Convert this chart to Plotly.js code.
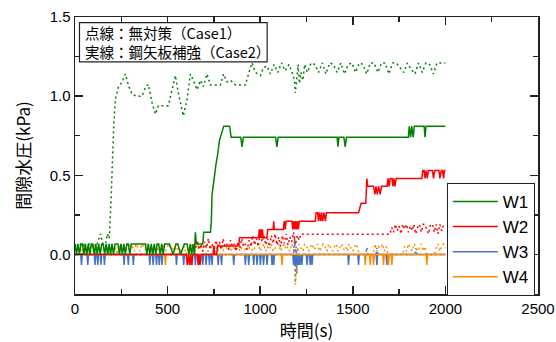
<!DOCTYPE html>
<html>
<head>
<meta charset="utf-8">
<script src="https://cdn.plot.ly/plotly-3.0.1.min.js"></script>
<style>html,body{margin:0;padding:0;background:#fff;}#chart{width:556px;height:342px;}</style>
</head>
<body>
<div id="chart"></div>
<script>
// ---- data: [time (s), pore water pressure (kPa)] ----
// Case1 (dotted, no countermeasure)
const case1W1 = [[0,0.066],[15,0],[30,0.066],[45,0.066],[60,0],[75,0.066],[90,0.066],[105,0],[120,0.066],[138,0.13],[150,0.066],[165,0.066],[174,0.13],[185,0.1],[195,0.35],[200,0.56],[209,0.81],[218,0.98],[228,1.04],[235,1.06],[255,1.09],[272,1.14],[289,1.065],[309,1.01],[335,1.0],[362,1.0],[380,1.055],[396,1.075],[416,0.96],[434,0.886],[450,0.94],[477,0.94],[504,0.94],[524,1.04],[542,1.13],[558,1.02],[578,0.92],[585,0.875],[605,0.98],[623,1.14],[639,1.1],[659,1.04],[677,1.1],[693,1.06],[713,1.14],[731,1.07],[758,1.07],[785,1.07],[802,1.14],[821,1.09],[840,1.1],[866,1.07],[893,1.07],[920,1.07],[937,1.14],[956,1.21],[974,1.15],[1001,1.13],[1017,1.18],[1037,1.19],[1055,1.14],[1075,1.2],[1095,1.15],[1115,1.21],[1135,1.16],[1155,1.2],[1175,1.14],[1185,1.1],[1190,1.02],[1197,1.12],[1205,1.2],[1212,1.08],[1220,1.15],[1230,1.1],[1240,1.2],[1255,1.15],[1275,1.21],[1295,1.2],[1315,1.15],[1335,1.21],[1355,1.14],[1375,1.21],[1395,1.2],[1415,1.15],[1435,1.21],[1455,1.14],[1475,1.2],[1495,1.21],[1515,1.15],[1535,1.21],[1555,1.2],[1575,1.14],[1595,1.21],[1615,1.21],[1635,1.15],[1655,1.21],[1675,1.21],[1695,1.14],[1715,1.21],[1735,1.21],[1755,1.18],[1775,1.15],[1795,1.21],[1815,1.17],[1835,1.14],[1855,1.21],[1875,1.15],[1895,1.21],[1915,1.2],[1935,1.14],[1955,1.21],[1975,1.21],[2000,1.21]];

const case1W2 = [[0,0],[640,0],[650,0.04],[660,0.09],[670,0.03],[680,0.066],[690,0.02],[700,0.08],[710,0.04],[720,0.1],[730,0.03],[740,0.066],[750,0.02],[760,0.09],[770,0.05],[780,0.08],[790,0.03],[800,0.1],[810,0.05],[820,0.066],[830,0.03],[840,0.09],[850,0.05],[860,0.066],[870,0.02],[880,0.08],[890,0.04],[900,0.1],[910,0.05],[920,0.066],[930,0.03],[940,0.09],[950,0.05],[960,0.12],[970,0.06],[980,0.1],[990,0.05],[1000,0.14],[1010,0.08],[1020,0.12],[1030,0.06],[1040,0.1],[1050,0.05],[1060,0.12],[1070,0.07],[1080,0.13],[1090,0.06],[1100,0.11],[1110,0.05],[1120,0.12],[1130,0.07],[1140,0.13],[1150,0.06],[1160,0.11],[1170,0.08],[1180,0.14],[1190,0.06],[1200,0.12],[1210,0.09],[1220,0.13],[1233,0.127],[1700,0.127],[1710,0.17],[1720,0.14],[1730,0.19],[1740,0.15],[1750,0.18],[1760,0.13],[1770,0.19],[1780,0.16],[1790,0.19],[1800,0.14],[1810,0.18],[1820,0.15],[1830,0.19],[1840,0.13],[1850,0.17],[1860,0.19],[1870,0.14],[1880,0.19],[1890,0.19],[1900,0.15],[1910,0.13],[1920,0.19],[1930,0.19],[1940,0.14],[1950,0.19],[1960,0.13],[1970,0.19],[1980,0.15],[1990,0.19],[2000,0.19]];

const case1W3 = [[0,0],[1180,0],[1186,0.116],[1190,-0.18],[1194,0.05],[1198,-0.12],[1204,0.03],[1210,0],[1570,0],[1576,0.044],[1582,0],[1625,0],[1630,0.04],[1636,0],[1835,0],[1840,0.04],[1846,0],[2000,0]];

const case1W4Time = [
  0,10,20,30,40,50,60,70,80,90,100,110,120,130,140,150,160,170,180,190,
  200,210,220,230,240,250,260,270,280,290,300,310,320,330,340,350,360,370,380,390,
  400,410,420,430,440,450,460,470,480,490,500,510,520,530,540,550,560,570,580,590,
  600,610,620,630,640,650,660,670,680,690,700,710,720,730,740,750,760,770,780,790,
  800,810,820,830,840,850,860,870,880,890,900,910,920,930,940,950,960,970,980,990,
  1000,1010,1020,1030,1040,1050,1060,1070,1080,1090,1100,1110,1120,1130,1140,1150,1160,1170,1180,1190,
  1200,1210,1220,1230,1240,1250,1260,1270,1280,1290,1300,1310,1320,1330,1340,1350,1360,1370,1380,1390,
  1400,1410,1420,1430,1440,1450,1460,1470,1480,1490,1500,1510,1520,1530,1540,1550,1560,1570,1580,1590,
  1600,1610,1620,1630,1640,1650,1660,1670,1680,1690,1700,1710,1720,1730,1740,1750,1760,1770,1780,1790,
  1800,1810,1820,1830,1840,1850,1860,1870,1880,1890,1900,1910,1920,1930,1940,1950,1960,1970,1980,1990,
  2000];
const case1W4Value = [
  0.04,0.066,0.02,0.05,0.0,0.066,0.03,0.05,0.0,0.04,0.066,0.02,0.05,0.0,0.04,0.066,0.02,0.04,0.0,0.05,
  0.066,0.02,0.04,0.0,0.05,0.066,0.02,0.04,0.066,0.03,0.066,0.05,0.02,0.066,0.04,0.02,0.066,0.05,0.03,0.066,
  0.02,0.04,0.0,0.05,0.066,0.02,0.0,0.04,0.066,0.02,0.05,0.066,0.03,0.05,0.02,0.066,0.0,0.04,0.02,0.05,
  0.0,0.04,0.02,0.066,0.05,0.02,0.066,0.04,0.05,0.02,0.066,0.04,0.02,0.05,0.066,0.03,0.05,0.02,0.066,0.04,
  0.02,0.066,0.04,0.05,0.02,0.066,0.03,0.05,0.066,0.02,0.04,0.066,0.02,0.05,0.04,0.066,0.02,0.04,0.05,0.066,
  0.02,0.04,0.066,0.02,0.05,0.03,0.066,0.02,0.04,0.05,0.066,0.02,0.04,0.066,0.03,0.05,0.02,0.066,0.04,-0.19,
  0.02,0.066,0.04,0.02,0.066,0.05,0.02,0.04,0.066,0.03,0.05,0.066,0.02,0.04,0.066,0.05,0.02,0.066,0.04,0.02,
  0.05,0.066,0.02,0.04,0.066,0.03,0.05,0.02,0.066,0.04,0.02,0.05,0.066,0.02,0.0,0.0,0.0,0.0,0.0,0.0,
  0.0,0.0,0.066,0.02,0.05,0.04,0.066,0.02,0.05,0.0,0.0,0.0,0.0,0.0,0.0,0.0,0.0,0.0,0.05,0.02,
  0.066,0.04,0.02,0.066,0.05,0.02,0.04,0.066,0.02,0.05,0.0,0.0,0.0,0.0,0.0,0.04,0.066,0.02,0.05,0.066,
  0.04];

// Case2 (solid, steel sheet pile reinforcement)
const case2W1 = [[0,0.066],[8,0],[16,0.066],[24,0],[32,0.066],[40,0.066],[48,0],[56,0.066],[64,0],[72,0.066],[80,0],[88,0.066],[96,0.066],[104,0],[112,0.066],[120,0],[128,0.066],[136,0],[144,0.066],[152,0.066],[160,0],[168,0.066],[176,0],[184,0.066],[192,0],[200,0.066],[208,0],[216,0.066],[232,0.066],[240,0],[248,0.066],[256,0],[264,0.066],[272,0],[280,0.066],[288,0.066],[296,0],[304,0.066],[320,0.066],[340,0.066],[360,0.066],[380,0.066],[388,0],[396,0.066],[404,0],[412,0.066],[420,0],[428,0.066],[436,0],[444,0.066],[452,0.066],[460,0],[468,0.066],[476,0],[484,0.066],[492,0.066],[510,0.066],[530,0],[545,0.066],[555,0.066],[570,0],[590,0.066],[605,0.066],[615,0],[622,0.066],[630,0],[638,0.066],[645,0],[650,0.14],[655,0.066],[690,0.066],[695,0.14],[731,0.14],[736,0.2],[740,0.38],[745,0.42],[752,0.5],[760,0.56],[770,0.63],[780,0.72],[790,0.76],[803,0.81],[835,0.81],[843,0.74],[895,0.74],[902,0.68],[909,0.74],[1083,0.74],[1090,0.68],[1097,0.74],[1415,0.74],[1420,0.68],[1425,0.74],[1452,0.74],[1459,0.68],[1466,0.74],[1800,0.74],[1805,0.81],[1812,0.74],[1818,0.81],[1826,0.74],[1832,0.81],[1846,0.81],[1885,0.81],[1890,0.74],[1895,0.81],[2000,0.81]];

const case2W2 = [[0,0],[600,0],[606,-0.066],[612,0],[618,-0.066],[624,0],[630,-0.066],[636,0],[660,0],[665,-0.066],[670,0],[676,-0.066],[682,0],[745,0],[750,0.053],[755,0],[765,0],[770,0.053],[884,0.053],[888,0.105],[991,0.105],[995,0.158],[999,0.105],[1003,0.158],[1007,0.105],[1012,0.158],[1016,0.105],[1037,0.105],[1040,0.158],[1070,0.158],[1073,0.21],[1076,0.158],[1125,0.158],[1130,0.21],[1135,0.158],[1140,0.21],[1171,0.21],[1176,0.158],[1181,0.21],[1186,0.158],[1191,0.21],[1196,0.158],[1201,0.21],[1206,0.158],[1211,0.21],[1297,0.21],[1302,0.264],[1310,0.264],[1315,0.21],[1320,0.264],[1327,0.21],[1332,0.264],[1338,0.21],[1345,0.264],[1352,0.21],[1358,0.264],[1531,0.264],[1545,0.323],[1570,0.323],[1573,0.43],[1576,0.48],[1580,0.43],[1612,0.43],[1620,0.38],[1625,0.43],[1632,0.38],[1640,0.43],[1648,0.38],[1655,0.43],[1685,0.43],[1690,0.48],[1696,0.43],[1702,0.48],[1712,0.48],[1717,0.43],[1722,0.48],[1728,0.43],[1734,0.48],[1873,0.48],[1878,0.53],[1885,0.53],[1890,0.48],[1896,0.53],[1902,0.48],[1908,0.53],[1930,0.53],[1936,0.48],[1942,0.53],[1965,0.53],[1970,0.48],[1978,0.53],[1985,0.53],[1990,0.48],[1995,0.53],[2000,0.53]];

// times at which the Case2 W3 / W4 records dip to one step below zero
const case2W3DipTimes = [35,69,108,123,140,159,265,288,315,404,422,440,455,470,548,587,632,650,672,690,708,726,740,773,791,857,920,938,965,983,1001,1018,1037,1064,1073,1180,1190,1198,1206,1214,1225,1253,1270,1280,1477,1531,1630,1684];
const case2W4DipTimes = [488,625,1118,1567,1594,1612,1666,1693,1711,1900];
const dipValue = -0.066;
const recordEnd = 2000;

const seriesNames = ['W1','W2','W3','W4'];
const seriesColors = ['#008000','#ff0000','#4472c4','#ff8c00'];
const noteLines = ['点線：無対策（Case1）', '実線：鋼矢板補強（Case2）'];

// ---- build traces ----
function fromPairs(p){ return {x:p.map(d=>d[0]), y:p.map(d=>d[1])}; }
function fromDips(times){
  const x=[0], y=[0];
  times.forEach(t=>{ x.push(t-4,t,t+4); y.push(0,dipValue,0); });
  x.push(recordEnd); y.push(0);
  return {x:x,y:y};
}
function dotted(d, i){
  return {x:d.x, y:d.y, mode:'lines', type:'scatter', showlegend:false, hoverinfo:'skip',
          line:{color:seriesColors[i], width:1.5, dash:'2px,3px'}};
}
function solid(d, i){
  return {x:d.x, y:d.y, mode:'lines', type:'scatter', name:seriesNames[i], legendrank:i+1,
          line:{color:seriesColors[i], width:1.5}};
}

const traces = [
  dotted(fromPairs(case1W3), 2),
  dotted({x:case1W4Time, y:case1W4Value}, 3),
  dotted(fromPairs(case1W2), 1),
  dotted(fromPairs(case1W1), 0),
  solid(fromDips(case2W3DipTimes), 2),
  solid(fromDips(case2W4DipTimes), 3),
  solid(fromPairs(case2W2), 1),
  solid(fromPairs(case2W1), 0)
];

const tickFont = {family:'Liberation Sans, Arial, sans-serif', size:15, color:'#000'};
const jpFont = 'Noto Sans CJK JP, sans-serif';
const axisCommon = {
  showline:true, linecolor:'#222', linewidth:1.5, mirror:'ticks',
  ticks:'inside', ticklen:8, tickwidth:1.5, tickcolor:'#222',
  showgrid:false, zeroline:false, tickfont:tickFont
};

const layout = {
  width:556, height:342,
  margin:{l:75, r:18, t:17, b:48},
  paper_bgcolor:'#fff', plot_bgcolor:'#fff',
  xaxis: Object.assign({}, axisCommon, {
    range:[0,2500], dtick:500, tick0:0,
    minor:{dtick:250, ticks:'inside', ticklen:5, tickwidth:1.5, tickcolor:'#222'},
    title:{text:'時間(s)', font:{family:jpFont, size:17, color:'#000'}, standoff:13}
  }),
  yaxis: Object.assign({}, axisCommon, {
    range:[-0.25,1.5], dtick:0.5, tick0:0, tickformat:'.1f',
    minor:{dtick:0.25, ticks:'inside', ticklen:5, tickwidth:1.5, tickcolor:'#222'},
    title:{text:'間隙水圧(kPa)', font:{family:jpFont, size:17, color:'#000'}, standoff:14}
  }),
  legend:{
    x:0.803, y:0.401, xanchor:'left', yanchor:'top',
    bgcolor:'#fff', bordercolor:'#222', borderwidth:1,
    font:{family:'Liberation Sans, Arial, sans-serif', size:17, color:'#000'},
    itemwidth:45, tracegroupgap:0
  },
  shapes:[{
    type:'rect', xref:'paper', yref:'paper', x0:0.0097, x1:0.415, y0:0.838, y1:0.98,
    line:{color:'#222', width:1.2}, fillcolor:'#fff', layer:'above'
  }],
  annotations:[
    {xref:'paper', yref:'paper', x:0.018, y:0.943, xanchor:'left', yanchor:'middle',
     text:noteLines[0], showarrow:false, font:{family:jpFont, size:14.5, color:'#000'}},
    {xref:'paper', yref:'paper', x:0.018, y:0.875, xanchor:'left', yanchor:'middle',
     text:noteLines[1], showarrow:false, font:{family:jpFont, size:14.5, color:'#000'}}
  ]
};

Plotly.newPlot('chart', traces, layout, {displayModeBar:false, staticPlot:true});
</script>
</body>
</html>
